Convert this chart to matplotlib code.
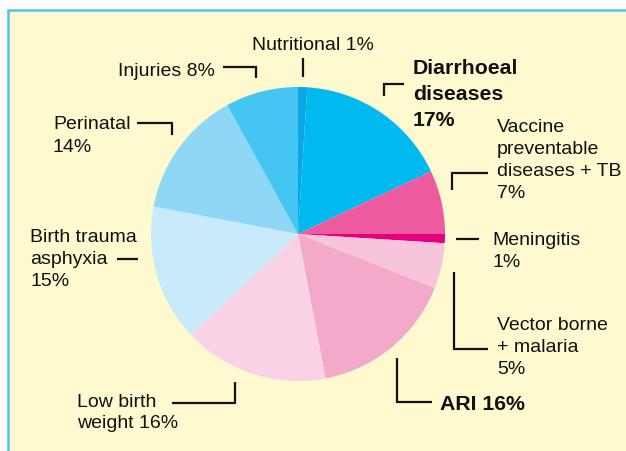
import matplotlib
matplotlib.use('Agg')
import matplotlib.pyplot as plt
from matplotlib.patches import Rectangle

# causes of death, clockwise from the top
causes = ['Nutritional', 'Diarrhoeal diseases', 'Vaccine preventable diseases + TB',
          'Meningitis', 'Vector borne + malaria', 'ARI', 'Low birth weight',
          'Birth trauma asphyxia', 'Perinatal', 'Injuries']
shares = [1, 17, 7, 1, 5, 16, 16, 15, 14, 8]
colors = ['#0AA6E6', '#00B9EE', '#EE5A9F', '#E6007E', '#F7C5DB',
          '#F3A9CA', '#F9D3E5', '#C8EAFA', '#8ED7F6', '#45C6F2']

label_lines = [['Nutritional 1%'],
               ['Diarrhoeal', 'diseases', '17%'],
               ['Vaccine', 'preventable', 'diseases + TB', '7%'],
               ['Meningitis', '1%'],
               ['Vector borne', '+ malaria', '5%'],
               ['ARI 16%'],
               ['Low birth', 'weight 16%'],
               ['Birth trauma', 'asphyxia', '15%'],
               ['Perinatal', '14%'],
               ['Injuries 8%']]
bold = [False, True, False, False, False, True, False, False, False, False]

# layout in pixels: (x, first baseline, line step, ha) and leader paths
text_pos = [(252, 50, 22, 'left'), (413, 74, 26, 'left'), (497, 132, 22, 'left'),
            (492, 245, 22, 'left'), (497, 330, 22, 'left'), (440, 410, 22, 'left'),
            (77, 407, 21, 'left'), (30, 242, 22, 'left'), (53, 129, 23, 'left'),
            (215, 76, 22, 'right')]
leaders = [[(303, 58), (303, 77)],
           [(384, 96), (384, 84), (404, 84)],
           [(452, 190), (452, 173), (488, 173)],
           [(456, 239), (479, 239)],
           [(454, 272), (454, 349), (488, 349)],
           [(397, 358), (397, 402), (432, 402)],
           [(172, 403), (235, 403), (235, 382)],
           [(117, 259), (138, 259)],
           [(137, 123), (172, 123), (172, 135)],
           [(223, 67), (256, 67), (256, 78)]]

W, H = 626, 451
fig = plt.figure(figsize=(W / 100, H / 100), dpi=100)
fig.patch.set_facecolor('white')

bg = fig.add_axes([0, 0, 1, 1], zorder=0)
bg.set_xlim(0, W)
bg.set_ylim(H, 0)
bg.axis('off')
bg.add_patch(Rectangle((8, 10), W + 10, H, facecolor='#FEF9CF',
                       edgecolor='#4EC3EA', linewidth=1.8))

for lines, b, (x, y0, step, ha) in zip(label_lines, bold, text_pos):
    for k, line in enumerate(lines):
        bg.text(x, y0 + k * step, line, ha=ha, va='baseline',
                family='Liberation Sans', fontsize=15.3 if b else 14,
                fontweight='bold' if b else 'normal', color='#111111')

for path in leaders:
    bg.plot([p[0] for p in path], [p[1] for p in path], color='#111111',
            linewidth=1.6, solid_capstyle='butt', solid_joinstyle='miter')

# pie centred at (298, 234) px with radius 147 px
cx, cy, r = 298, 234, 147
ax = fig.add_axes([(cx - r) / W, (H - cy - r) / H, 2 * r / W, 2 * r / H], zorder=1)
ax.patch.set_visible(False)
ax.pie(shares, colors=colors, startangle=90, counterclock=False, radius=1,
       wedgeprops={'linewidth': 0})
ax.set_xlim(-1, 1)
ax.set_ylim(-1, 1)
ax.axis('off')

fig.savefig('out.png', dpi=100)
